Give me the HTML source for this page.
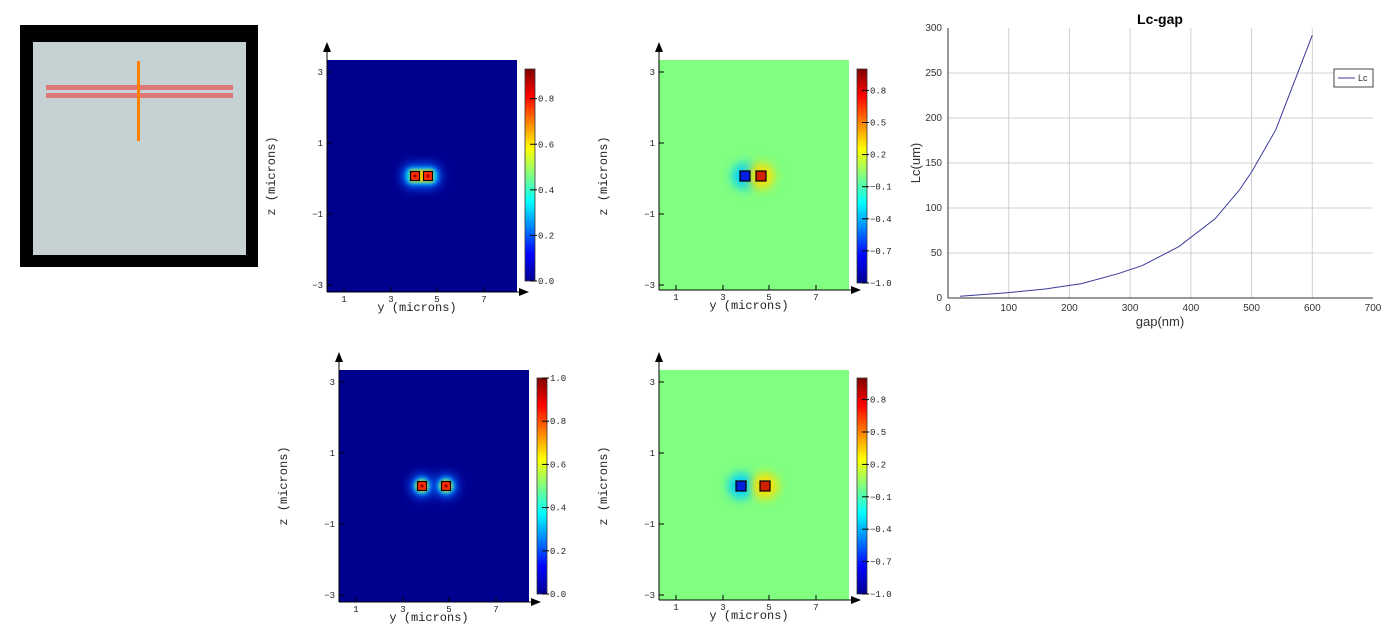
<!DOCTYPE html>
<html><head><meta charset="utf-8">
<style>
html,body{margin:0;padding:0;background:#fff;}
body{width:1385px;height:641px;overflow:hidden;position:relative;font-family:"Liberation Sans",sans-serif;}
svg{position:absolute;left:0;top:0;}
</style></head><body>
<svg id="s" width="1385" height="641" viewBox="0 0 1385 641" xmlns="http://www.w3.org/2000/svg">
<defs>
<linearGradient id="jet" x1="0" y1="1" x2="0" y2="0">
<stop offset="0" stop-color="#00008f"/><stop offset="0.125" stop-color="#0000ff"/>
<stop offset="0.375" stop-color="#00ffff"/><stop offset="0.5" stop-color="#80ff80"/>
<stop offset="0.625" stop-color="#ffff00"/><stop offset="0.875" stop-color="#ff0000"/>
<stop offset="1" stop-color="#800000"/></linearGradient>
<filter id="b4" x="-1" y="-1" width="3" height="3"><feGaussianBlur stdDeviation="5"/></filter>
<filter id="b2" x="-1" y="-1" width="3" height="3"><feGaussianBlur stdDeviation="2.5"/></filter>
<filter id="b1" x="-1" y="-1" width="3" height="3"><feGaussianBlur stdDeviation="1.5"/></filter>
</defs>
<!-- schematic -->
<rect x="20" y="25" width="238" height="242" fill="#000"/>
<rect x="33" y="42" width="213" height="213" fill="#c5d1d2"/>
<rect x="46" y="85" width="187" height="5" fill="#dc7878"/>
<rect x="46" y="93" width="187" height="5" fill="#dc7878"/>
<rect x="137" y="61" width="3" height="80" fill="#ff7f00"/>
<g id="panels"></g>
<!-- line chart -->
<g font-family="Liberation Sans, sans-serif" font-size="10" fill="#333">
<g stroke="#d0d0d0" stroke-width="1">
<line x1="1008.7" y1="28" x2="1008.7" y2="298"/><line x1="1069.4" y1="28" x2="1069.4" y2="298"/>
<line x1="1130.1" y1="28" x2="1130.1" y2="298"/><line x1="1190.9" y1="28" x2="1190.9" y2="298"/>
<line x1="1251.6" y1="28" x2="1251.6" y2="298"/><line x1="1312.3" y1="28" x2="1312.3" y2="298"/>
<line x1="948" y1="253" x2="1373" y2="253"/><line x1="948" y1="208" x2="1373" y2="208"/>
<line x1="948" y1="163" x2="1373" y2="163"/><line x1="948" y1="118" x2="1373" y2="118"/>
<line x1="948" y1="73" x2="1373" y2="73"/>
</g>
<line x1="948" y1="28" x2="948" y2="298" stroke="#333"/>
<line x1="948" y1="298" x2="1373" y2="298" stroke="#333"/>
<g text-anchor="end">
<text x="942" y="301">0</text><text x="942" y="256">50</text><text x="942" y="211">100</text>
<text x="942" y="166">150</text><text x="942" y="121">200</text><text x="942" y="76">250</text><text x="942" y="31">300</text>
</g>
<g text-anchor="middle">
<text x="948" y="311">0</text><text x="1008.7" y="311">100</text><text x="1069.4" y="311">200</text>
<text x="1130.1" y="311">300</text><text x="1190.9" y="311">400</text><text x="1251.6" y="311">500</text>
<text x="1312.3" y="311">600</text><text x="1373" y="311">700</text>
<text x="1160" y="326" font-size="13">gap(nm)</text>
<text x="1160" y="24" font-size="14" font-weight="bold" fill="#000">Lc-gap</text>
<text transform="translate(920,163) rotate(-90)" font-size="13">Lc(um)</text>
</g>
<polyline fill="none" stroke="#3a3a9a" stroke-width="1" points="960.1,296.2 1008.7,292.6 1045.1,289 1081.6,283.6 1118,273.7 1142.3,265.6 1178.7,246.7 1215.1,218.8 1239.4,190 1251.6,172 1275.8,129.7 1312.3,35.2"/>
<rect x="1334" y="69" width="39" height="18" fill="#fff" stroke="#444"/>
<line x1="1338" y1="78" x2="1355" y2="78" stroke="#3a3a9a"/>
<text x="1358" y="81" font-size="9">Lc</text>
</g>
</svg>
<script>
const NS="http://www.w3.org/2000/svg";
const g=document.getElementById('panels');
function el(t,a,p){const e=document.createElementNS(NS,t);for(const k in a)e.setAttribute(k,a[k]);(p||g).appendChild(e);return e;}
function txt(x,y,s,a,p){const e=el('text',Object.assign({x:x,y:y,'font-family':'Liberation Mono, DejaVu Sans Mono, monospace','font-size':10,fill:'#222'},a||{}),p);e.textContent=s;return e;}
function panel(px,py,pw,ph,cbx,cby,cbh,type,m1,m2,labels){
  const G=el('g',{});
  const bg = type=='int' ? '#00008f' : '#80ff80';
  el('rect',{x:px,y:py,width:pw,height:ph,fill:bg},G);
  const cy=py+116;
  if(type=='int'){
    const wide = m2-m1>16;
    if(!wide){
      el('rect',{x:px+m1-13,y:cy-12,width:m2-m1+26,height:24,rx:10,fill:'#0060ff',filter:'url(#b4)'},G);
      el('rect',{x:px+m1-9,y:cy-8,width:m2-m1+18,height:16,rx:6,fill:'#00e0ff',filter:'url(#b2)'},G);
      el('rect',{x:px+m1-5,y:cy-6,width:m2-m1+10,height:12,fill:'#ffd000',filter:'url(#b1)'},G);
    } else {
      for(const m of [m1,m2]){
        el('circle',{cx:px+m,cy:cy,r:12,fill:'#0060ff',filter:'url(#b4)'},G);
        el('circle',{cx:px+m,cy:cy,r:8,fill:'#00e0ff',filter:'url(#b2)'},G);
        el('circle',{cx:px+m,cy:cy,r:6,fill:'#ffd000',filter:'url(#b1)'},G);
      }
    }
    for(const m of [m1,m2]){
      el('rect',{x:px+m-4.5,y:cy-4.5,width:9,height:9,fill:'#ff3000',stroke:'#000','stroke-width':1.2},G);
      el('rect',{x:px+m-1.5,y:cy-1.5,width:3,height:3,fill:'#a00000'},G);
    }
  } else {
    el('circle',{cx:px+m1,cy:cy,r:13,fill:'#00d0ff',filter:'url(#b4)'},G);
    el('circle',{cx:px+m2,cy:cy,r:13,fill:'#ffe000',filter:'url(#b4)'},G);
    el('rect',{x:px+m1-5,y:cy-5,width:10,height:10,fill:'#0020e0',stroke:'#000','stroke-width':1.2},G);
    el('rect',{x:px+m2-5,y:cy-5,width:10,height:10,fill:'#d02000',stroke:'#000','stroke-width':1.2},G);
  }
  el('line',{x1:px,y1:py-14,x2:px,y2:py+ph,stroke:'#000','stroke-width':1},G);
  el('line',{x1:px,y1:py+ph,x2:px+pw+8,y2:py+ph,stroke:'#000','stroke-width':1},G);
  el('polygon',{points:`${px-4},${py-8} ${px+4},${py-8} ${px},${py-18}`,fill:'#000'},G);
  el('polygon',{points:`${px+pw+2},${py+ph-4} ${px+pw+2},${py+ph+4} ${px+pw+12},${py+ph}`,fill:'#000'},G);
  const yt=[17,64,110,157], yl=['1','3','5','7'];
  yt.forEach((d,i)=>{el('line',{x1:px+d,y1:py+ph,x2:px+d,y2:py+ph-5,stroke:'#000'},G);txt(px+d,py+ph+10,yl[i],{'text-anchor':'middle','font-size':9},G);});
  const zt=[12,83,154,225], zl=['3','1','\u22121','\u22123'];
  zt.forEach((d,i)=>{el('line',{x1:px,y1:py+d,x2:px+5,y2:py+d,stroke:'#000'},G);txt(px-4,py+d+3,zl[i],{'text-anchor':'end','font-size':9},G);});
  txt(px+pw/2-5,py+ph+19,'y (microns)',{'text-anchor':'middle','font-size':12},G);
  txt(0,0,'z (microns)',{'text-anchor':'middle','font-size':12,transform:`translate(${px-52},${py+116}) rotate(-90)`},G);
  el('rect',{x:cbx,y:cby,width:10,height:cbh,fill:'url(#jet)',stroke:'#333','stroke-width':0.8},G);
  labels.forEach(([f,s])=>{const y=cby+cbh*(1-f);el('line',{x1:cbx+5,y1:y,x2:cbx+12,y2:y,stroke:'#000'},G);txt(cbx+13,y+3,s,{'font-size':9},G);});
}
const L1=[[0,'0.0'],[0.215,'0.2'],[0.43,'0.4'],[0.645,'0.6'],[0.86,'0.8']];
const L2=[[0,'\u22121.0'],[0.15,'\u22120.7'],[0.3,'\u22120.4'],[0.45,'\u22120.1'],[0.6,'0.2'],[0.75,'0.5'],[0.9,'0.8']];
const L3=[[0,'0.0'],[0.2,'0.2'],[0.4,'0.4'],[0.6,'0.6'],[0.8,'0.8'],[1,'1.0']];
panel(327,60,190,232,525,69,212,'int',88,101,L1);
panel(659,60,190,230,857,69,214,'anti',86,102,L2);
panel(339,370,190,232,537,378,216,'int',83,107,L3);
panel(659,370,190,230,857,378,216,'anti',82,106,L2);
</script>
</body></html>
